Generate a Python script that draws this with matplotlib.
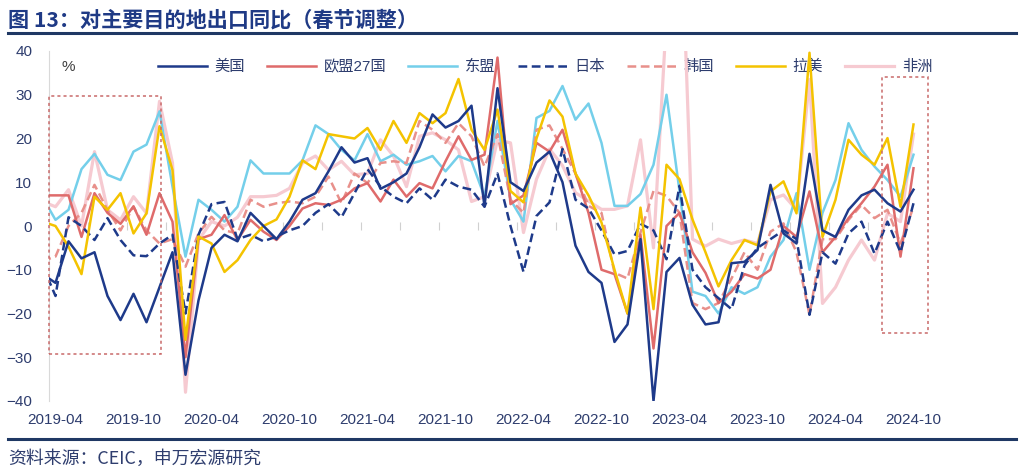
import numpy as np
import pandas as pd
import matplotlib
matplotlib.use("Agg")
import matplotlib.pyplot as plt
from matplotlib.lines import Line2D
from matplotlib.patches import Rectangle

plt.rcParams['font.family'] = ['Liberation Sans', 'Noto Sans CJK SC']

# months 2019-03 .. 2024-10 (first one only shows as the clipped start)
months = pd.period_range('2019-03', '2024-10', freq='M')

us = [-11, -13, -3.5, -7.4, -6, -16, -21.5, -15.5, -22, -14, -6, -34, -17, -5, -2, -3.5,
      3, 0, -3, 1, 6, 7.5, 12.5, 18, 14.5, 15.5, 8.5, 10, 12, 18, 25.5, 22.5, 24, 27.5,
      4.5, 31.5, 10, 8, 14.5, 17, 10, -4.5, -10.5, -13, -26.5, -22.5, -3, -40, -10.5, -7.3,
      -18, -22.5, -22, -8.5, -8.2, -5.5, 9.4, -1.7, -4, 16.5, -1, -2.5, 3.7, 7, 8.3, 5.2,
      3.3, 8.3]
eu27 = [7, 7, 7, -2.5, 7.5, 3, 0.5, 4.5, -2, 7.5, 1, -30, -3, -2, 2.5, -3.2,
        1.4, -1.3, -3.2, 0, 4, 5.2, 4.8, 6, 8.6, 9.8, 5.6, 10.6, 6.7, 9.8, 8.6, 14.8, 20.5, 15.1,
        16.3, 38.5, 5, 7, 19, 17, 22, 12, 3, -10, -11, -20, -2, -28, 0, 3,
        -6, -10.7, -17.6, -15, -11, -12, -10, 0, -2.5, 7.9, -6, -2.5, 1.8, 5.2, 9, 14,
        -7, 13.2]
asean = [6.6, 1.4, 3.7, 13, 16.5, 11.7, 10.5, 17, 18.6, 26.2, 9, -7, 6, 3.7, 1, 4.4,
         15, 12, 12, 12, 15, 23, 21, 17.4, 15, 21, 14.8, 16.3, 14, 14.8, 16, 12.5, 16, 14.8,
         6.7, 24, 6, 1, 24.7, 26.3, 32, 24.3, 28, 19, 4.6, 4.6, 7.3, 14, 30, 8,
         -15, -16, -20, -14, -15.5, -14, -7, -3.2, 7.5, -10, 3, 10.5, 23.5, 17.4, 13.6, 10.5,
         6.7, 16.3]
japan = [-9, -16, 2, 0, -3.2, 1.8, -3.2, -6.7, -6.9, -4, -2, -20, -2, 5, 5.5, -3,
         -2, -3.5, -2.4, -1, 0, 3, 5, 2, 7.5, 13, 9, 6.7, 5.2, 8.6, 6, 10.6, 9, 8.3,
         4.4, 12, 0, -10.5, 2.3, 5.4, 17.6, 6, 4, -1, -6.5, -5.7, 0.5, -1, -7.6, 9.2,
         -10, -14, -16.5, -19, -9, -5, -3, -1, -3, -20.3, -6, -8.6, -1.7, 1, -6.3, 1,
         -6, 5.2]
korea = [-8, -7, 0, 3, 9.4, 3.7, -1, 4.4, -1, -4, -3, -9.3, -1.7, 2.1, -1, -1.7,
         6, 4.4, 5.2, 5.6, 5.2, 6.7, 11.3, 5.2, 12, 9.8, 14.4, 14.8, 14.4, 24, 22, 19, 23.5, 20.5,
         13.6, 21, 6, 3, 22, 23, 17.6, 12, 4.6, 3, -10.7, -12, -1.5, 8, 6.9, 3,
         -17.6, -19, -17.6, -12, -6, -10, -1.3, 0.6, -6, -20.3, -3, -3, 1.4, 4.8, 1.8, 3.7,
         -4, 4.4]
latam = [1, 0, -4.7, -11, 6.7, 3.7, 7.5, -1.7, 2.9, 22.8, 12.8, -26, -2.4, -4, -10.5, -7.8,
         -3.2, 0, 1.5, 6.7, 15, 13, 21, 20.5, 20, 22.4, 17.4, 24, 19, 25.8, 23.5, 25.8, 33.6, 22,
         17.4, 26.6, 8, 5.4, 20, 28.7, 25, 12, 7, 0.8, -10, -20, 4.2, -19, 14, 10.7,
         1.5, -6, -13.8, -7.8, -3.2, -4.4, 7.9, 10.2, 2.9, 39.6, -2.5, 6, 19.7, 16.3, 14, 20.1,
         4.4, 23.2]
africa = [5.6, 4.4, 8.3, 0, 17, 3.7, 1.4, 6.7, 2.9, 28.5, 14.4, -38, -3.2, 1, 0, 2,
          6.7, 6.7, 7, 8.6, 14.4, 16, 12.8, 14.8, 11.7, 12, 19.7, 16, 9, 20.5, 21.3, 19.7, 17.4, 5.6,
          6.7, 19.7, 19, -1.5, 10.7, 17.6, 13.8, 7.6, 5.7, 3.8, 3.8, 4.6, 19.7, -5, 48, 80,
          -3, -4.6, -3, -4, -3.2, -4, 6, 7.1, 3.7, 33.5, -17.7, -14, -7.8, -3.2, -7.8, 2.9,
          1, 21]

x = np.arange(len(months)) - 1  # 2019-04 sits at 0

navy = '#1E3A8A'
txt = '#2E3D6E'

fig = plt.figure(figsize=(10.24, 4.74), dpi=100)
ax = fig.add_axes([49/1024, 1-401/474, 871/1024, 350/474])

lw = 1.8
ax.plot(x, africa, color='#F6CAD1', lw=2.3, label='非洲', zorder=2)
ax.plot(x, asean, color='#74CFEA', lw=lw, label='东盟', zorder=3)
ax.plot(x, korea, color='#E8908B', lw=lw, ls=(0, (3.5, 1.8)), label='韩国', zorder=4)
ax.plot(x, eu27, color='#DF6B6B', lw=lw, label='欧盟27国', zorder=5)
ax.plot(x, japan, color=navy, lw=lw, ls=(0, (3.5, 1.8)), label='日本', zorder=6)
ax.plot(x, latam, color='#F4C300', lw=lw, label='拉美', zorder=7)
ax.plot(x, us, color=navy, lw=lw, label='美国', zorder=8)

ax.set_xlim(-0.5, 66.5)
ax.set_ylim(-40, 40)
ax.set_yticks(range(-40, 41, 10))
ax.tick_params(axis='y', length=0, pad=12, labelsize=11, labelcolor=txt)

lab_pos = [i for i, m in zip(x, months) if i >= 0 and m.month in (4, 10)]
lab_txt = [m.strftime('%Y-%m') for i, m in zip(x, months) if i >= 0 and m.month in (4, 10)]
ax.set_xticks(lab_pos)
ax.set_xticklabels(lab_txt)
ax.tick_params(axis='x', length=0, pad=9, labelsize=11, labelcolor=txt)

for s in ['top', 'right', 'bottom']:
    ax.spines[s].set_visible(False)
ax.spines['left'].set_color('#D9D9D9')

# zero line with ticks between categories
sec = ax.secondary_xaxis(0.5)
sec.set_xticks(np.arange(-0.5, 66, 3))
sec.tick_params(length=6, direction='inout', color='#D0D0D0', labelbottom=False, labeltop=False)
sec.spines['bottom'].set_color('#D9D9D9')
sec.spines['top'].set_visible(False)

# highlight boxes
box_style = dict(fill=False, ec='#C96A6A', lw=1.1, ls=(0, (2, 2)), clip_on=False, zorder=9)
ax.add_patch(Rectangle((-0.5, -29.2), 8.6, 58.9, **box_style))
ax.add_patch(Rectangle((63.6, -24.5), 3.5, 58.6, **box_style))

order = ['美国', '欧盟27国', '东盟', '日本', '韩国', '拉美', '非洲']
h, l = ax.get_legend_handles_labels()
hd = dict(zip(l, h))
leg = ax.legend([hd[k] for k in order], order, loc='center left',
                bbox_to_anchor=(158/1024, 1-67/474), bbox_transform=fig.transFigure,
                ncol=7, frameon=False, borderpad=0, borderaxespad=0,
                handlelength=3.2, handletextpad=0.5, columnspacing=1.45, fontsize=11)
for t in leg.get_texts():
    t.set_color(txt)
leg.set_zorder(1)

fig.text(62/1024, 1-67/474, '%', fontsize=11, color='#404040', va='center')

fig.text(8/1024, 1-20/474, '图 13：对主要目的地出口同比（春节调整）', fontsize=15.2,
         weight='bold', color='#1F3A85', va='center',
         family=['Noto Sans CJK SC', 'DejaVu Sans'])
fig.add_artist(Line2D([8/1024, 1016/1024], [1-33/474]*2, color='#1F3864', lw=2.2))
fig.add_artist(Line2D([8/1024, 1016/1024], [1-439/474]*2, color='#1F3864', lw=2.2))
fig.text(8/1024, 1-459/474, '资料来源：CEIC，申万宏源研究', fontsize=12.9, color=txt,
         va='center', family=['Noto Sans CJK SC', 'DejaVu Sans'])

fig.savefig('out.png', dpi=100)
